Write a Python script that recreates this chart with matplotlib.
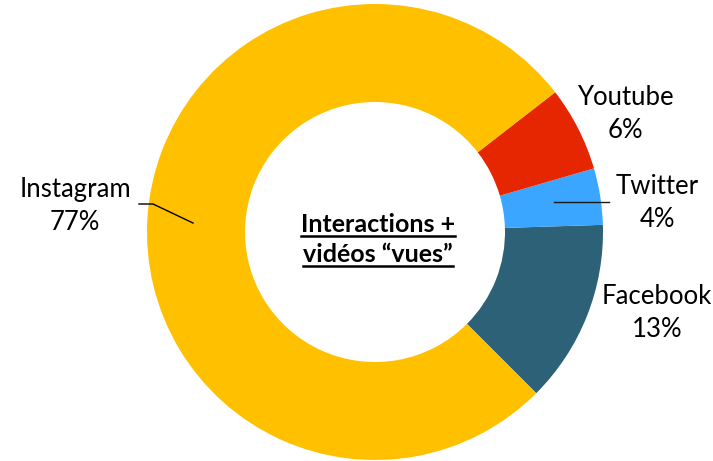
import matplotlib
matplotlib.use("Agg")
import matplotlib.pyplot as plt
from matplotlib.lines import Line2D

categories = ["Facebook", "Twitter", "Youtube", "Instagram"]
values = [13, 4, 6, 77]
colors = ["#2C6177", "#3AA6FF", "#E62600", "#FFC000"]
center_lines = ["Interactions +", "vidéos \u201cvues\u201d"]

W, H = 713, 461
fig = plt.figure(figsize=(W / 100, H / 100), dpi=100)
ax = fig.add_axes([0, 0, 1, 1])

cx, cy, R = 375, 229, 228
wedges, _ = ax.pie(values, colors=colors, startangle=-45, counterclock=True,
                   center=(cx, cy), radius=R, frame=True,
                   wedgeprops=dict(width=R - 130, edgecolor="none"))
ax.set_xlim(0, W)
ax.set_ylim(0, H)
ax.set_aspect("equal")
ax.axis("off")

font = "Lato"
fs = 18.5
labels = [f"{c}\n{v}%" for c, v in zip(categories, values)]
pos = {"Instagram": (75, 255), "Youtube": (625, 347), "Twitter": (657, 258), "Facebook": (657, 148)}
for c, lab in zip(categories, labels):
    x, y = pos[c]
    ax.text(x, y, lab, ha="center", va="center", fontsize=fs, family=font,
            linespacing=1.42, color="black")

# leader lines
ax.add_line(Line2D([139, 153, 193], [H - 204, H - 204, H - 223], color="black", lw=1))
ax.add_line(Line2D([554, 609], [H - 202, H - 202], color="#1a1a1a", lw=1))

# center text with underline
fig.canvas.draw()
renderer = fig.canvas.get_renderer()
for i, line in enumerate(center_lines):
    yy = H - (224 + i * 30)
    t = ax.text(378, yy, line, ha="center", va="center", fontsize=18, family=font,
                fontweight="bold", color="black")
    bb = t.get_window_extent(renderer=renderer)
    inv = ax.transData.inverted()
    (x0, y0), (x1, y1) = inv.transform([[bb.x0, bb.y0], [bb.x1, bb.y1]])
    ax.add_line(Line2D([x0, x1], [y0, y0], color="black", lw=1.8))

fig.savefig("out.png", dpi=100)
